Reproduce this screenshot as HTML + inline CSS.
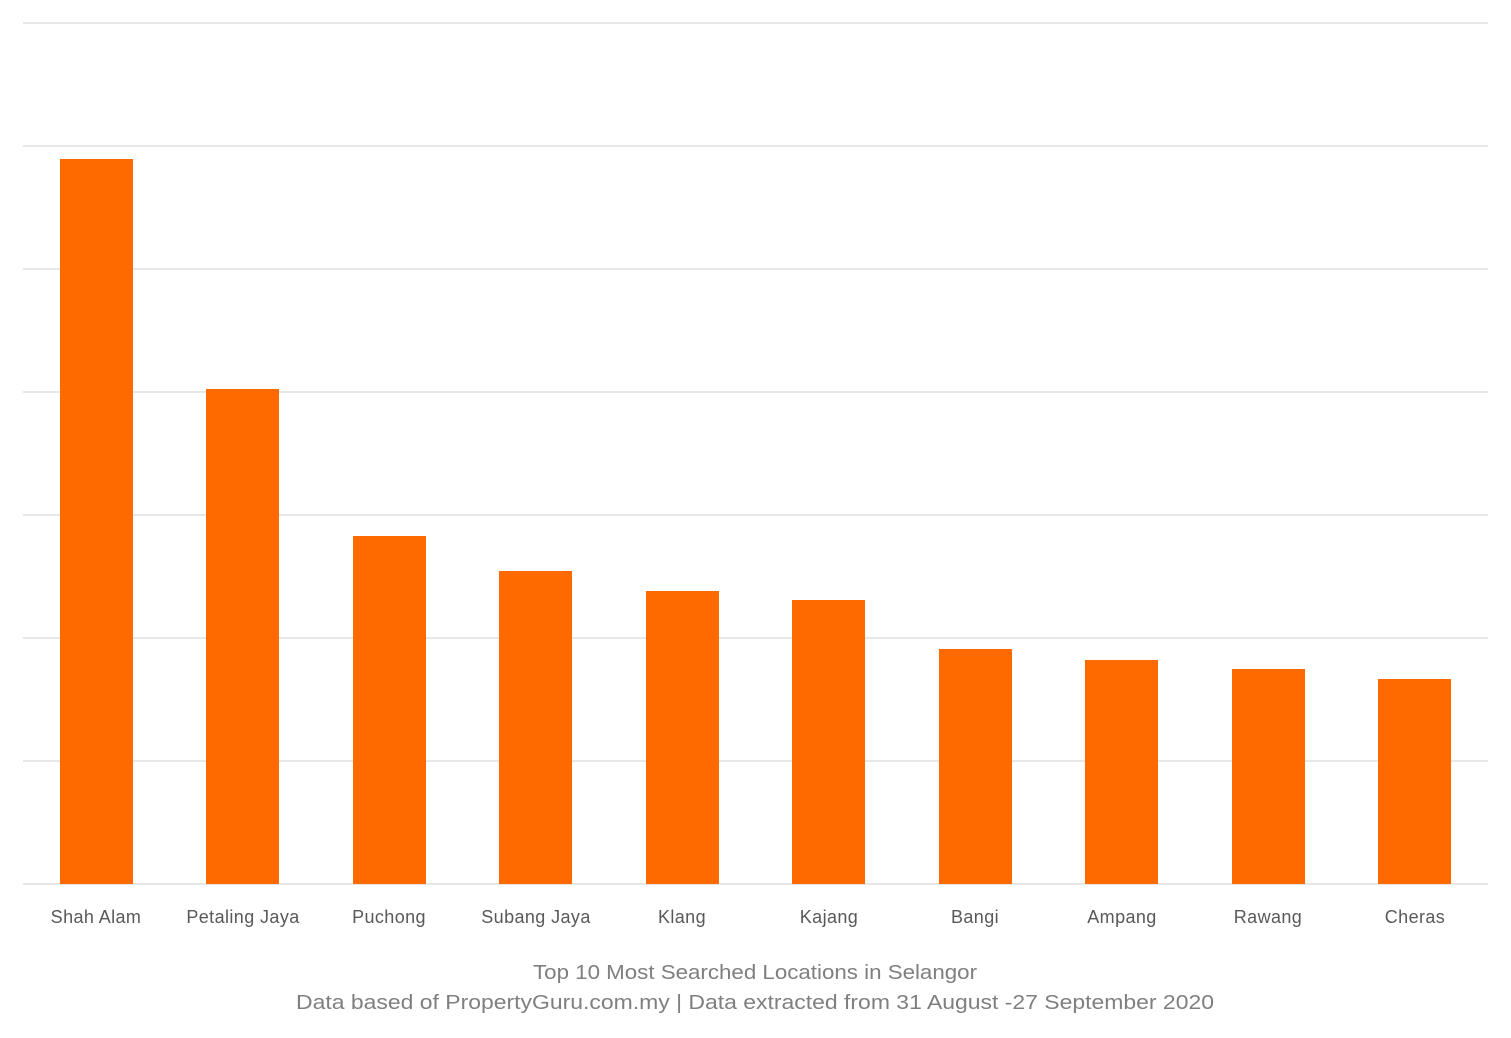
<!DOCTYPE html>
<html><head><meta charset="utf-8"><style>
html,body{margin:0;padding:0;background:#fff;}
</style></head><body>
<svg width="1511" height="1033" xmlns="http://www.w3.org/2000/svg">
<rect width="1511" height="1033" fill="#fff"/>
<g stroke="#d9d9d9" stroke-width="1.3">
<line x1="23" x2="1488" y1="23" y2="23"/>
<line x1="23" x2="1488" y1="146" y2="146"/>
<line x1="23" x2="1488" y1="269" y2="269"/>
<line x1="23" x2="1488" y1="392" y2="392"/>
<line x1="23" x2="1488" y1="515" y2="515"/>
<line x1="23" x2="1488" y1="638" y2="638"/>
<line x1="23" x2="1488" y1="761" y2="761"/>
<line x1="23" x2="1488" y1="884" y2="884"/>
</g>
<g fill="#ff6a00">
<rect x="60" y="159" width="73" height="725"/>
<rect x="206" y="389" width="73" height="495"/>
<rect x="353" y="536" width="73" height="348"/>
<rect x="499" y="571" width="73" height="313"/>
<rect x="646" y="591" width="73" height="293"/>
<rect x="792" y="600" width="73" height="284"/>
<rect x="939" y="649" width="73" height="235"/>
<rect x="1085" y="660" width="73" height="224"/>
<rect x="1232" y="669" width="73" height="215"/>
<rect x="1378" y="679" width="73" height="205"/>
</g>
<g font-family="Liberation Sans, sans-serif" font-size="18" fill="#595959" text-anchor="middle" letter-spacing="0.4">
<text x="96" y="923">Shah Alam</text>
<text x="243" y="923">Petaling Jaya</text>
<text x="389" y="923">Puchong</text>
<text x="536" y="923">Subang Jaya</text>
<text x="682" y="923">Klang</text>
<text x="829" y="923">Kajang</text>
<text x="975" y="923">Bangi</text>
<text x="1122" y="923">Ampang</text>
<text x="1268" y="923">Rawang</text>
<text x="1415" y="923">Cheras</text>
</g>
<g font-family="Liberation Sans, sans-serif" font-size="20" fill="#7f7f7f" text-anchor="middle">
<text x="755" y="979" textLength="444" lengthAdjust="spacingAndGlyphs">Top 10 Most Searched Locations in Selangor</text>
<text x="755" y="1009" textLength="918" lengthAdjust="spacingAndGlyphs">Data based of PropertyGuru.com.my | Data extracted from 31 August -27 September 2020</text>
</g>
</svg>
</body></html>
